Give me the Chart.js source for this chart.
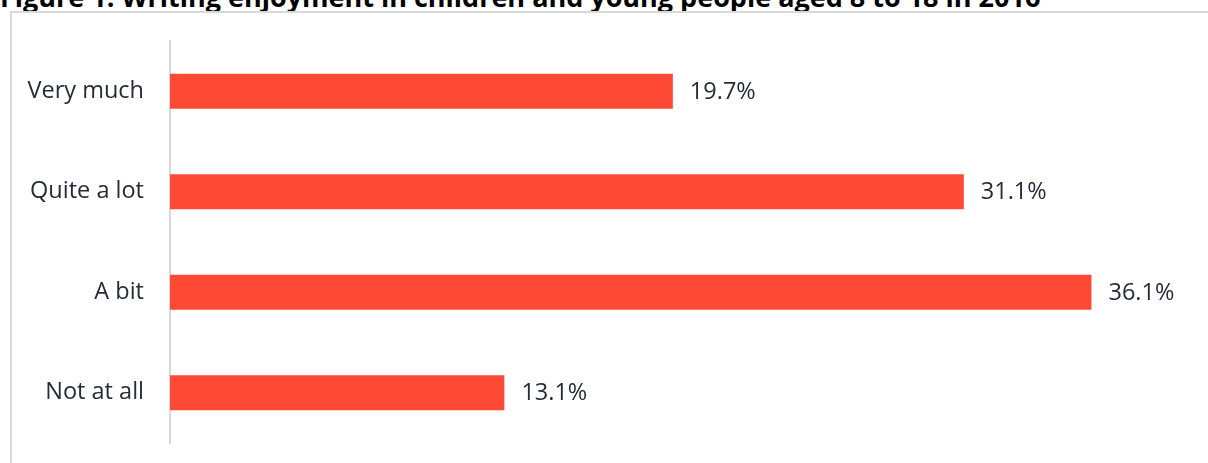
<!DOCTYPE html>
<html>
<head>
<meta charset="utf-8">
<script src="https://cdn.jsdelivr.net/npm/chart.js@4"></script>
<style>
  html, body { margin: 0; padding: 0; background: #fff; overflow: hidden; }
  #wrap { position: relative; width: 1208px; height: 463px; }
  #title { position: absolute; left: 0; top: -22px; line-height: 27px; font: bold 27px "Open Sans", sans-serif; color: #000; white-space: nowrap; }
  #frame { position: absolute; left: 10px; top: 11px; width: 1210px; height: 470px; border: 2px solid #d9d9d9; box-sizing: border-box; }
  #c { position: absolute; left: 0; top: 0; }
</style>
</head>
<body>
<div id="wrap">
  <div id="title">Figure 1: Writing enjoyment in children and young people aged 8 to 18 in 2016</div>
  <div id="frame"></div>
  <canvas id="c" width="1208" height="463"></canvas>
</div>
<script>
const categories = ["Very much", "Quite a lot", "A bit", "Not at all"];
const values = [19.7, 31.1, 36.1, 13.1];
const valueLabels = ["19.7%", "31.1%", "36.1%", "13.1%"];

const textColor = "#252c38";
const fontFamily = '"Open Sans", sans-serif';

const valueLabelPlugin = {
  id: "valueLabels",
  afterDatasetsDraw(chart) {
    const ctx = chart.ctx;
    const meta = chart.getDatasetMeta(0);
    ctx.save();
    ctx.font = "23.5px " + fontFamily;
    ctx.fillStyle = textColor;
    ctx.textAlign = "left";
    ctx.textBaseline = "middle";
    meta.data.forEach((bar, i) => {
      ctx.fillText(valueLabels[i], bar.x + 17, bar.y + 1);
    });
    ctx.restore();
  }
};

new Chart(document.getElementById("c"), {
  type: "bar",
  data: {
    labels: categories,
    datasets: [{
      data: values,
      backgroundColor: "#fe4a35",
      borderWidth: 0,
      barPercentage: 0.35,
      categoryPercentage: 1.0
    }]
  },
  options: {
    indexAxis: "y",
    responsive: false,
    animation: false,
    layout: { padding: { top: 41, bottom: 20, right: 17, left: 0 } },
    plugins: { legend: { display: false }, tooltip: { enabled: false } },
    scales: {
      x: { min: 0, max: 40, display: false },
      y: {
        grid: { display: false, drawTicks: false },
        border: { display: true, color: "#d9d9d9", width: 2 },
        ticks: { color: textColor, font: { family: fontFamily, size: 23.5 }, padding: 26 },
        afterFit(scale) { scale.width = 170; scale.paddingTop = 0; scale.paddingBottom = 0; }
      }
    }
  },
  plugins: [valueLabelPlugin]
});
</script>
</body>
</html>
